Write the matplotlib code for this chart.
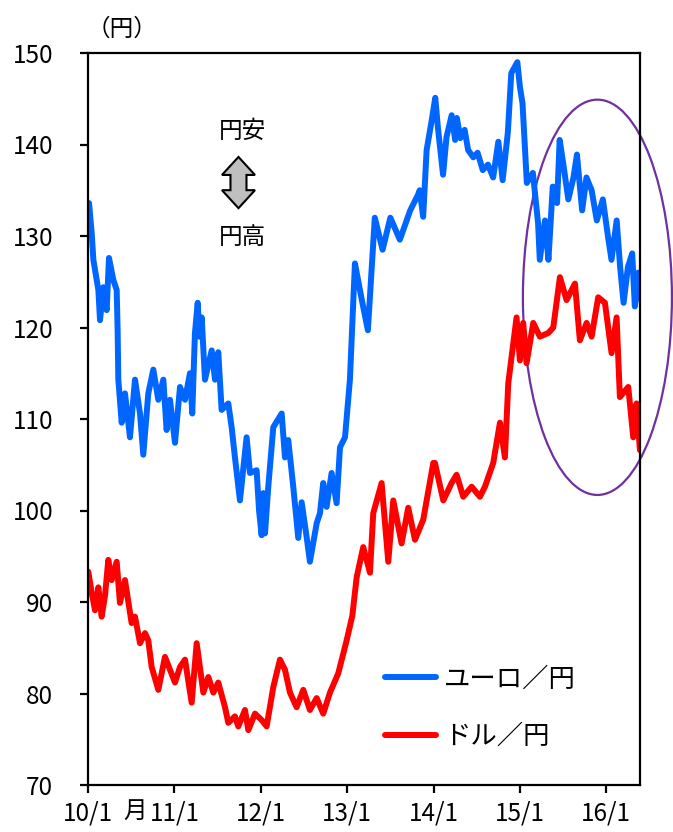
import matplotlib
matplotlib.use('Agg')
import matplotlib.pyplot as plt
from matplotlib.patches import Ellipse, Polygon
import numpy as np

plt.rcParams['font.family'] = ['Noto Sans CJK JP', 'DejaVu Sans']

# euro / yen, time in decimal years
eur_t = [2010.012, 2010.043, 2010.062, 2010.12, 2010.139, 2010.177, 2010.216, 2010.243,
         2010.293, 2010.332, 2010.343, 2010.351, 2010.39, 2010.428, 2010.486, 2010.544,
         2010.602, 2010.64, 2010.698, 2010.756, 2010.814, 2010.872, 2010.91, 2010.949,
         2011.007, 2011.065, 2011.123, 2011.18, 2011.207, 2011.238, 2011.27, 2011.29,
         2011.316, 2011.354, 2011.432, 2011.47, 2011.508, 2011.547, 2011.624, 2011.663,
         2011.701, 2011.759, 2011.836, 2011.875, 2011.952, 2011.98, 2012.01, 2012.03,
         2012.049, 2012.087, 2012.145, 2012.242, 2012.28, 2012.318, 2012.376, 2012.434,
         2012.473, 2012.531, 2012.569, 2012.647, 2012.685, 2012.723, 2012.762, 2012.82,
         2012.878, 2012.917, 2012.975, 2013.032, 2013.09, 2013.17, 2013.24, 2013.32,
         2013.41, 2013.5, 2013.61, 2013.73, 2013.82, 2013.84, 2013.88, 2013.92,
         2013.98, 2014.02, 2014.05, 2014.11, 2014.15, 2014.21, 2014.25, 2014.27,
         2014.31, 2014.36, 2014.4, 2014.46, 2014.51, 2014.57, 2014.63, 2014.69,
         2014.75, 2014.8, 2014.86, 2014.9, 2014.97, 2015.0, 2015.03, 2015.08,
         2015.15, 2015.21, 2015.23, 2015.29, 2015.33, 2015.38, 2015.43, 2015.46,
         2015.5, 2015.56, 2015.62, 2015.66, 2015.72, 2015.77, 2015.83, 2015.89,
         2015.96, 2016.02, 2016.06, 2016.12, 2016.16, 2016.2, 2016.25, 2016.3,
         2016.33, 2016.37, 2016.41]
eur_v = [133.6, 130.3, 127.4, 124.1, 120.8, 124.4, 121.9, 127.6,
         125.2, 124.1, 119.7, 114.3, 109.6, 112.8, 108.0, 114.3,
         110.6, 106.1, 112.8, 115.4, 112.1, 114.3, 108.8, 112.1,
         107.4, 113.5, 112.1, 115.0, 110.6, 119.4, 122.7, 119.0,
         121.1, 114.3, 117.5, 114.3, 117.3, 111.0, 111.7, 109.1,
         105.8, 101.1, 108.0, 104.1, 104.4, 100.0, 97.3, 101.9,
         97.5, 102.6, 109.1, 110.6, 105.8, 107.7, 102.6, 97.0,
         100.9, 97.1, 94.4, 98.6, 99.7, 103.0, 100.4, 104.1,
         100.8, 106.9, 108.0, 114.3, 127.0, 123.0, 119.7, 132.0,
         128.5, 132.0, 129.6, 132.8, 134.5, 135.0, 132.1, 139.4,
         142.7, 145.1, 141.9, 136.7, 140.8, 143.2, 140.5, 142.9,
         140.7, 141.6, 139.4, 138.6, 139.1, 137.2, 137.8, 136.4,
         140.3, 136.1, 141.3, 147.8, 149.0, 146.3, 144.5, 135.8,
         136.9, 131.4, 127.4, 131.7, 127.4, 135.4, 133.6, 140.5,
         138.0, 134.0, 136.4, 138.9, 132.8, 136.4, 135.0, 131.7,
         134.0, 129.9, 127.4, 131.7, 126.6, 122.7, 126.6, 128.1,
         122.3, 126.0, 122.7]

# dollar / yen
usd_t = [2010.004, 2010.043, 2010.081, 2010.12, 2010.158, 2010.197, 2010.235, 2010.274,
         2010.332, 2010.37, 2010.428, 2010.505, 2010.544, 2010.602, 2010.66, 2010.698,
         2010.737, 2010.814, 2010.891, 2010.949, 2011.007, 2011.065, 2011.123, 2011.2,
         2011.258, 2011.335, 2011.393, 2011.451, 2011.508, 2011.586, 2011.624, 2011.701,
         2011.74, 2011.817, 2011.856, 2011.933, 2012.01, 2012.068, 2012.145, 2012.222,
         2012.28, 2012.338, 2012.415, 2012.492, 2012.569, 2012.647, 2012.723, 2012.801,
         2012.897, 2012.994, 2013.06, 2013.11, 2013.186, 2013.264, 2013.302, 2013.399,
         2013.476, 2013.534, 2013.63, 2013.707, 2013.785, 2013.881, 2013.997, 2014.016,
         2014.113, 2014.209, 2014.267, 2014.344, 2014.441, 2014.537, 2014.595, 2014.691,
         2014.769, 2014.826, 2014.865, 2014.961, 2015.0, 2015.038, 2015.077, 2015.154,
         2015.231, 2015.328, 2015.386, 2015.463, 2015.54, 2015.637, 2015.694, 2015.772,
         2015.83, 2015.906, 2015.984, 2016.061, 2016.119, 2016.157, 2016.254, 2016.312,
         2016.35, 2016.389, 2016.408]
usd_v = [93.3, 91.0, 89.1, 91.6, 88.4, 90.7, 94.6, 92.4,
         94.4, 89.9, 92.4, 87.7, 88.4, 85.5, 86.6, 85.8,
         82.9, 80.4, 84.0, 82.6, 81.2, 82.9, 83.7, 79.0,
         85.5, 80.1, 81.8, 80.1, 81.2, 78.5, 76.8, 77.5,
         76.4, 78.2, 76.0, 77.8, 77.1, 76.4, 80.7, 83.7,
         82.6, 80.1, 78.5, 80.4, 78.2, 79.5, 77.8, 80.1,
         82.2, 85.8, 88.5, 92.7, 96.0, 93.2, 99.7, 103.0,
         94.4, 101.1, 96.4, 100.3, 96.8, 99.0, 105.2, 105.2,
         101.1, 103.0, 103.9, 101.5, 102.6, 101.5, 102.6, 105.2,
         109.6, 105.8, 113.9, 121.1, 116.4, 120.5, 116.1, 120.5,
         119.0, 119.4, 120.0, 125.5, 123.0, 124.8, 118.6, 120.5,
         119.0, 123.3, 122.7, 117.2, 121.1, 112.4, 113.5, 108.0,
         111.7, 106.6, 108.0]

x_ticks = [2010, 2011, 2012, 2013, 2014, 2015, 2016]
x_labels = ['10/1', '11/1', '12/1', '13/1', '14/1', '15/1', '16/1']
y_ticks = [70, 80, 90, 100, 110, 120, 130, 140, 150]


def main():
    fig = plt.figure(figsize=(6.73, 8.32), dpi=100)
    ax = fig.add_axes([88 / 673, 1 - 785 / 832, 552 / 673, 732 / 832])

    ax.plot(eur_t, eur_v, color='#0066FF', lw=4.3, solid_joinstyle='round',
            solid_capstyle='round', label='ユーロ／円')
    ax.plot(usd_t, usd_v, color='#FF0000', lw=4.3, solid_joinstyle='round',
            solid_capstyle='round', label='ドル／円')

    ax.set_xlim(2010.0, 2016.39)
    ax.set_ylim(70, 150)
    ax.set_xticks(x_ticks)
    ax.set_xticklabels(x_labels)
    ax.set_yticks(y_ticks)

    for s in ax.spines.values():
        s.set_linewidth(1.6)
        s.set_color('black')
    ax.tick_params(axis='both', direction='out', length=6, width=1.6,
                   labelsize=17.5, colors='black')
    ax.tick_params(axis='y', pad=19)
    ax.tick_params(axis='x', pad=5)

    # stray "月" next to the first tick label
    ax.text(2010.55, -0.02, '月', transform=ax.get_xaxis_transform(),
            ha='center', va='top', fontsize=17)

    # unit
    fig.text(122 / 673, 1 - 29 / 832, '（円）', ha='center', va='center', fontsize=17)

    # 円安 / 円高 with double arrow
    ax.text(0.2795, 0.893, '円安', transform=ax.transAxes, ha='center', va='center', fontsize=17)
    ax.text(0.2805, 0.748, '円高', transform=ax.transAxes, ha='center', va='center', fontsize=17)
    cx, top, bot = 0.2726, 0.858, 0.788
    hw, sw, hh = 0.0299, 0.0145, 0.0246
    arrow = Polygon([[cx, top], [cx + hw, top - hh], [cx + sw, top - hh], [cx + sw, bot + hh],
                     [cx + hw, bot + hh], [cx, bot], [cx - hw, bot + hh], [cx - sw, bot + hh],
                     [cx - sw, top - hh], [cx - hw, top - hh]],
                    closed=True, transform=ax.transAxes, facecolor='#BFBFBF',
                    edgecolor='black', lw=1.5)
    ax.add_patch(arrow)

    # highlight ring
    ring = Ellipse((2015.897, 123.3), 1.725, 43.2, fill=False, edgecolor='#7030A0',
                   lw=1.6, clip_on=False)
    ax.add_patch(ring)

    ax.legend(loc='upper left', bbox_to_anchor=(0.538, 0.163), frameon=False,
              fontsize=19, handlelength=1.95, handletextpad=0.3, labelspacing=1.15,
              borderpad=0, borderaxespad=0)

    fig.savefig('out.png', dpi=100)


if __name__ == '__main__':
    main()
